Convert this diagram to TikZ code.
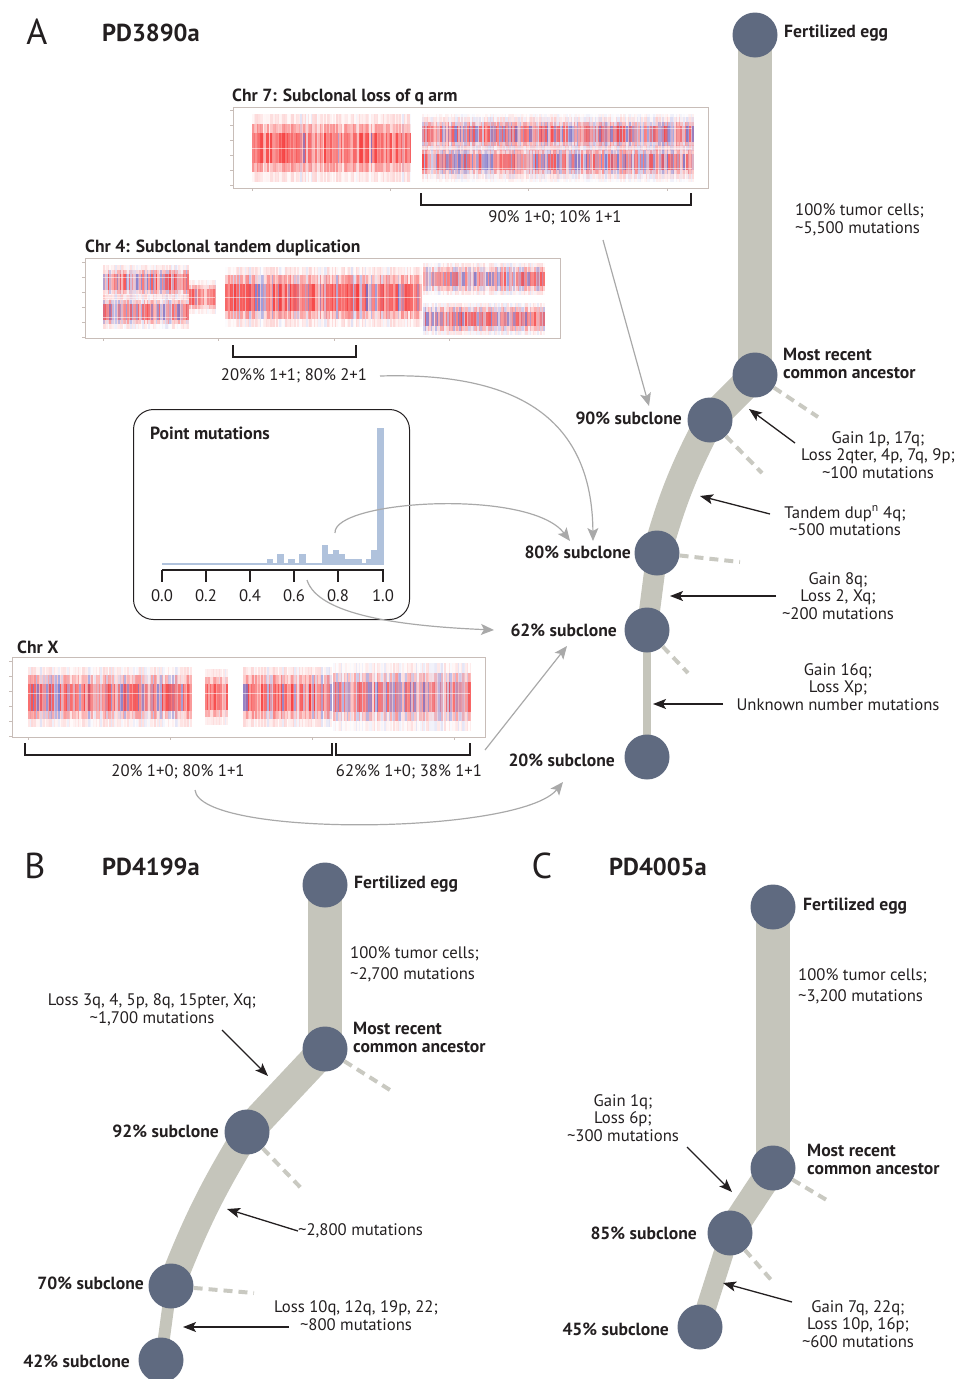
\documentclass[tikz,border=0pt]{standalone}
\usepackage{fontspec}
\setmainfont{PT Sans}
\usetikzlibrary{arrows.meta,backgrounds}
\definecolor{nodeC}{HTML}{5F6A80}
\definecolor{branchC}{HTML}{C5C5BB}
\definecolor{stubC}{HTML}{C9C9C1}
\definecolor{grayA}{HTML}{A9A9A9}
\definecolor{histC}{HTML}{B0C2DC}
\definecolor{boxC}{HTML}{C8BDB8}
\definecolor{txt}{HTML}{231F20}
\definecolor{hred}{HTML}{F41818}
\definecolor{hblue}{HTML}{5050C0}
\newcommand{\labfont}{\fontsize{16.7}{17.8}\selectfont}
\newcommand{\blabfont}{\fontsize{17.6}{18}\selectfont\bfseries}
% one layer of random stripes: x1,x2,ytop,ybot,bluefrac,opacity
\newcommand{\hband}[6]{%
  \pgfmathtruncatemacro\nstripes{(#2-#1)/1.5}%
  \foreach \i in {0,...,\nstripes}{%
    \pgfmathsetmacro\xx{#1+1.5*\i}%
    \pgfmathsetmacro\rr{rnd}%
    \pgfmathsetmacro\oo{min(1,#6*(0.1+1.0*rnd))}%
    \ifdim\rr pt<#5pt\def\cc{hblue}\else\def\cc{hred}\fi
    \fill[\cc,opacity=\oo] (\xx,#3) rectangle (\xx+1.6,#4);
  }}
% fuzzy band: x1,x2,ycenter,halfheight,bluefrac,intensity
\newcommand{\fuzz}[6]{%
  \pgfmathsetmacro\ya{#3-#4}\pgfmathsetmacro\yb{#3+#4}%
  \pgfmathsetmacro\yc{#3-0.72*#4}\pgfmathsetmacro\yd{#3+0.72*#4}%
  \pgfmathsetmacro\ye{#3-0.45*#4}\pgfmathsetmacro\yf{#3+0.45*#4}%
  \hband{#1}{#2}{\ya}{\yb}{#5}{0.1*#6}%
  \hband{#1}{#2}{\yc}{\yd}{#5}{0.25*#6}%
  \hband{#1}{#2}{\ye}{\yf}{#5}{0.4*#6}%
}
\begin{document}
\begin{tikzpicture}[x=1pt,y=-1pt,
  cnode/.style={circle,fill=nodeC,minimum size=45pt,inner sep=0pt},
  branch/.style={draw=branchC,line cap=butt},
  stub/.style={draw=stubC,line width=4pt,dash pattern=on 9pt off 6pt},
  lab/.style={font=\labfont,text=txt,align=center,inner sep=0pt},
  blab/.style={font=\blabfont,text=txt,align=left,inner sep=0pt},
  big/.style={font=\fontsize{36}{36}\selectfont,text=txt,inner sep=0pt},
  pname/.style={font=\fontsize{24.5}{24.5}\selectfont\bfseries,text=txt,anchor=west,inner sep=0pt},
  blk/.style={draw=txt,line width=1.3pt,-{Stealth[length=13pt,width=10pt,inset=3pt]}},
  gry/.style={draw=grayA,line width=1.2pt,-{Stealth[length=13pt,width=11pt,inset=3pt]}},
  brk/.style={draw=txt,line width=1.3pt},
  hbox/.style={draw=boxC,line width=0.8pt},
  tk/.style={draw=boxC,line width=0.6pt},
  wl/.style={white,opacity=0.55,line width=0.9pt}]
\useasboundingbox (0,0) rectangle (957,1379);
\pgfmathsetseed{7}

% ================= Panel A =================
\node[big] (Aletter) at (37,32) {A};
\node[pname] (Aname) at (102,33) {PD3890a};

% --- Chr 7 ---
\node[blab,anchor=west] (c7title) at (232,97) {Chr 7: Subclonal loss of q arm};
\fuzz{252}{410}{148}{34}{0.04}{1.6}
\fuzz{422}{692}{134}{17}{0.38}{1.4}
\fuzz{422}{692}{162}{17}{0.38}{1.4}
\hband{422}{692}{114}{182}{0.4}{0.08}
\draw[wl] (252,148) -- (410,148);
\draw[wl] (422,148) -- (692,148);
\draw[wl] (422,128) -- (692,128);
\draw[wl] (422,168) -- (692,168);
\draw[hbox] (233,107) rectangle (708,188);
\foreach \t in {252,390,528,667} \draw[tk] (\t,188) -- (\t,191);
\foreach \t in {110,125,140,155,170,185} \draw[tk] (230,\t) -- (233,\t);
\draw[brk] (421,193) -- (421,205) -- (691,205) -- (691,193);
\node[lab] (c7lab) at (555,218) {90\% 1+0; 10\% 1+1};

% --- Chr 4 ---
\node[blab,anchor=west] (c4title) at (85,248) {Chr 4: Subclonal tandem duplication};
\fuzz{103}{187}{282}{17}{0.33}{1.4}
\fuzz{103}{187}{312}{17}{0.33}{1.4}
\fuzz{189}{215}{297}{17}{0.08}{1.4}
\fuzz{225}{421}{297}{30}{0.18}{1.6}
\fuzz{423}{543}{279}{16}{0.33}{1.4}
\fuzz{423}{543}{319}{16}{0.33}{1.4}
\draw[wl] (103,297) -- (215,297);
\draw[wl] (225,297) -- (421,297);
\draw[wl] (103,277) -- (187,277);
\draw[wl] (103,317) -- (187,317);
\draw[hbox] (85,258) rectangle (560,338);
\foreach \t in {103,218,334,449} \draw[tk] (\t,338) -- (\t,341);
\foreach \t in {262,277,292,307,322,337} \draw[tk] (82,\t) -- (85,\t);
\draw[brk] (233,345) -- (233,357) -- (356,357) -- (356,345);
\node[lab] (c4lab) at (294,376) {20\%\% 1+1; 80\% 2+1};

% --- Point mutations inset ---
\node[draw=txt,line width=1pt,rounded corners=20pt,minimum width=276pt,minimum height=210pt,anchor=north west] (pm) at (133,409) {};
\node[blab,anchor=west] (pmtitle) at (150,433) {Point mutations};
\draw[histC,line width=2pt] (162,564) -- (384,564);
\foreach \a/\b/\c in {267/273/559,277/284/554,288/295/559,299/306/554,322/328/545,328/333/554,333/339/550,339/345/554,345/362/559,366/371/559,371/377/550,377/384/428}
  \fill[histC] (\a,\c) rectangle (\b,565);
\draw[txt,line width=1.5pt] (162,570) -- (384,570);
\foreach \p/\v in {162/0.0,206/0.2,250/0.4,294/0.6,338/0.8,383/1.0}{
  \draw[txt,line width=1.5pt] (\p,570) -- (\p,582);
  \node[lab] (tick\v) at (\p,596) {\v};}
\coordinate (pmA) at (335,533);
\coordinate (pmB) at (307,580);

% --- Chr X ---
\node[blab,anchor=west] (cxtitle) at (17,647) {Chr X};
\fuzz{28}{190}{697}{30}{0.25}{1.5}
\fuzz{205}{226}{697}{28}{0.1}{1.4}
\fuzz{243}{330}{697}{30}{0.18}{1.6}
\fuzz{333}{470}{697}{34}{0.4}{1.4}
\draw[wl] (28,693) -- (470,693);
\draw[hbox] (12,657) rectangle (485,737);
\foreach \t in {28,170,312,454} \draw[tk] (\t,737) -- (\t,740);
\foreach \t in {661,676,691,706,721,736} \draw[tk] (9,\t) -- (12,\t);
\draw[brk] (25,743) -- (25,755) -- (332,755) -- (332,743);
\draw[brk] (336,743) -- (336,755) -- (470,755) -- (470,743);
\node[lab] (cxlabA) at (178,772) {20\% 1+0; 80\% 1+1};
\node[lab] (cxlabB) at (409,772) {62\%\% 1+0; 38\% 1+1};

% --- Tree A ---
\node[cnode] (Aegg) at (755,35) {};
\node[cnode] (Amrca) at (755,375) {};
\node[cnode] (A90) at (710,420) {};
\node[cnode] (A80) at (657,553) {};
\node[cnode] (A62) at (647,630) {};
\node[cnode] (A20) at (647,757) {};
\begin{scope}[on background layer]
\draw[branch,line width=34pt] (Aegg.center) -- (Amrca.center);
\draw[branch,line width=30pt] (Amrca.center) -- (A90.center);
\draw[branch,line width=29pt] (A90.center) to[bend right=6] (A80.center);
\draw[branch,line width=21pt] (A80.center) -- (A62.center);
\draw[branch,line width=8pt] (A62.center) -- (A20.center);
\end{scope}
\coordinate (As1) at (818,417);
\coordinate (As2) at (762,473);
\coordinate (As3) at (740,562);
\coordinate (As4) at (688,673);
\draw[stub] (Amrca) -- (As1);
\draw[stub] (A90) -- (As2);
\draw[stub] (A80) -- (As3);
\draw[stub] (A62) -- (As4);

\node[blab,anchor=west] (AeggL) at (784,33) {Fertilized egg};
\node[lab,anchor=west,align=left] (AtrunkL) at (795,220) {100\% tumor cells;\\\textasciitilde5,500 mutations};
\node[blab,anchor=west] (AmrcaL) at (783,363) {Most recent\\common ancestor};
\node[blab,anchor=east] (A90L) at (682,418) {90\% subclone};
\node[blab,anchor=east] (A80L) at (631,552) {80\% subclone};
\node[blab,anchor=east] (A62L) at (617,630) {62\% subclone};
\node[blab,anchor=east] (A20L) at (615,760) {20\% subclone};
\node[lab] (Ag1) at (878,455) {Gain 1p, 17q;\\Loss 2qter, 4p, 7q, 9p;\\\textasciitilde100 mutations};
\node[lab] (Ag2) at (845,521) {Tandem dup\textsuperscript{n} 4q;\\\textasciitilde500 mutations};
\node[lab] (Ag3) at (838,596) {Gain 8q;\\Loss 2, Xq;\\\textasciitilde200 mutations};
\node[lab] (Ag4) at (838,687) {Gain 16q;\\Loss Xp;\\Unknown number mutations};

\coordinate (Aa1s) at (795,443); \coordinate (Aa1e) at (749,409);
\coordinate (Aa2s) at (770,514); \coordinate (Aa2e) at (700,496);
\coordinate (Aa3s) at (776,596); \coordinate (Aa3e) at (670,596);
\coordinate (Aa4s) at (723,704); \coordinate (Aa4e) at (653,704);
\draw[blk] (Aa1s) -- (Aa1e);
\draw[blk] (Aa2s) -- (Aa2e);
\draw[blk] (Aa3s) -- (Aa3e);
\draw[blk] (Aa4s) -- (Aa4e);

% gray connectors
\coordinate (g1s) at (603,240); \coordinate (g1e) at (649,406);
\coordinate (g2s) at (380,376); \coordinate (g2e) at (593,541);
\coordinate (g3e) at (570,541);
\coordinate (g4e) at (494,630);
\coordinate (g5s) at (485,750); \coordinate (g5e) at (567,646);
\coordinate (g6s) at (195,790); \coordinate (g6e) at (563,782);
\draw[gry] (g1s) -- (g1e);
\draw[gry] (g2s) .. controls (520,372) and (592,420) .. (g2e);
\draw[gry] (pmA) .. controls (333,500) and (530,488) .. (g3e);
\draw[gry] (pmB) .. controls (318,615) and (400,626) .. (g4e);
\draw[gry] (g5s) -- (g5e);
\draw[gry] (g6s) .. controls (200,838) and (520,835) .. (g6e);

% ================= Panel B =================
\node[big] (Bletter) at (35,866) {B};
\node[pname] (Bname) at (102,867) {PD4199a};
\node[cnode] (Begg) at (325,885) {};
\node[cnode] (Bmrca) at (325,1049) {};
\node[cnode] (B92) at (247,1132) {};
\node[cnode] (B70) at (171,1286) {};
\node[cnode] (B42) at (161,1360) {};
\begin{scope}[on background layer]
\draw[branch,line width=34pt] (Begg.center) -- (Bmrca.center);
\draw[branch,line width=31pt] (Bmrca.center) -- (B92.center);
\draw[branch,line width=27pt] (B92.center) to[bend right=5] (B70.center);
\draw[branch,line width=12pt] (B70.center) -- (B42.center);
\end{scope}
\coordinate (Bs1) at (390,1090);
\coordinate (Bs2) at (301,1188);
\coordinate (Bs3) at (254,1293);
\draw[stub] (Bmrca) -- (Bs1);
\draw[stub] (B92) -- (Bs2);
\draw[stub] (B70) -- (Bs3);
\node[blab,anchor=west] (BeggL) at (354,884) {Fertilized egg};
\node[lab,anchor=west,align=left] (BtrunkL) at (350,964) {100\% tumor cells;\\[3pt]\textasciitilde2,700 mutations};
\node[blab,anchor=west] (BmrcaL) at (353,1037) {Most recent\\common ancestor};
\node[blab,anchor=east] (B92L) at (219,1131) {92\% subclone};
\node[blab,anchor=east] (B70L) at (144,1283) {70\% subclone};
\node[blab,anchor=east] (B42L) at (130,1361) {42\% subclone};
\node[lab] (Bg1) at (152,1010) {Loss 3q, 4, 5p, 8q, 15pter, Xq;\\\textasciitilde1,700 mutations};
\node[lab,anchor=west] (Bg2) at (298,1231) {\textasciitilde2,800 mutations};
\node[lab] (Bg3) at (356,1316) {Loss 10q, 12q, 19p, 22;\\\textasciitilde800 mutations};
\coordinate (Ba1s) at (222,1030); \coordinate (Ba1e) at (268,1076);
\coordinate (Ba2e) at (227,1209);
\coordinate (Ba3s) at (289,1327); \coordinate (Ba3e) at (183,1327);
\draw[blk] (Ba1s) -- (Ba1e);
\draw[blk] (Bg2.west) -- (Ba2e);
\draw[blk] (Ba3s) -- (Ba3e);

% ================= Panel C =================
\node[big] (Cletter) at (542,866) {C};
\node[pname] (Cname) at (609,867) {PD4005a};
\node[cnode] (Cegg) at (773,907) {};
\node[cnode] (Cmrca) at (773,1168) {};
\node[cnode] (C85) at (730,1233) {};
\node[cnode] (C45) at (700,1327) {};
\begin{scope}[on background layer]
\draw[branch,line width=34pt] (Cegg.center) -- (Cmrca.center);
\draw[branch,line width=28pt] (Cmrca.center) -- (C85.center);
\draw[branch,line width=20pt] (C85.center) -- (C45.center);
\end{scope}
\coordinate (Cs1) at (830,1202);
\coordinate (Cs2) at (773,1282);
\draw[stub] (Cmrca) -- (Cs1);
\draw[stub] (C85) -- (Cs2);
\node[blab,anchor=west] (CeggL) at (803,906) {Fertilized egg};
\node[lab,anchor=west,align=left] (CtrunkL) at (798,986) {100\% tumor cells;\\[3pt]\textasciitilde3,200 mutations};
\node[blab,anchor=west] (CmrcaL) at (807,1159) {Most recent\\common ancestor};
\node[blab,anchor=east] (C85L) at (697,1233) {85\% subclone};
\node[blab,anchor=east] (C45L) at (669,1329) {45\% subclone};
\node[lab] (Cg1) at (623,1118) {Gain 1q;\\Loss 6p;\\\textasciitilde300 mutations};
\node[lab] (Cg2) at (858,1324) {Gain 7q, 22q;\\Loss 10p, 16p;\\\textasciitilde600 mutations};
\coordinate (Ca1s) at (687,1147); \coordinate (Ca1e) at (732,1192);
\coordinate (Ca2s) at (792,1302); \coordinate (Ca2e) at (723,1283);
\draw[blk] (Ca1s) -- (Ca1e);
\draw[blk] (Ca2s) -- (Ca2e);
\end{tikzpicture}
\end{document}
